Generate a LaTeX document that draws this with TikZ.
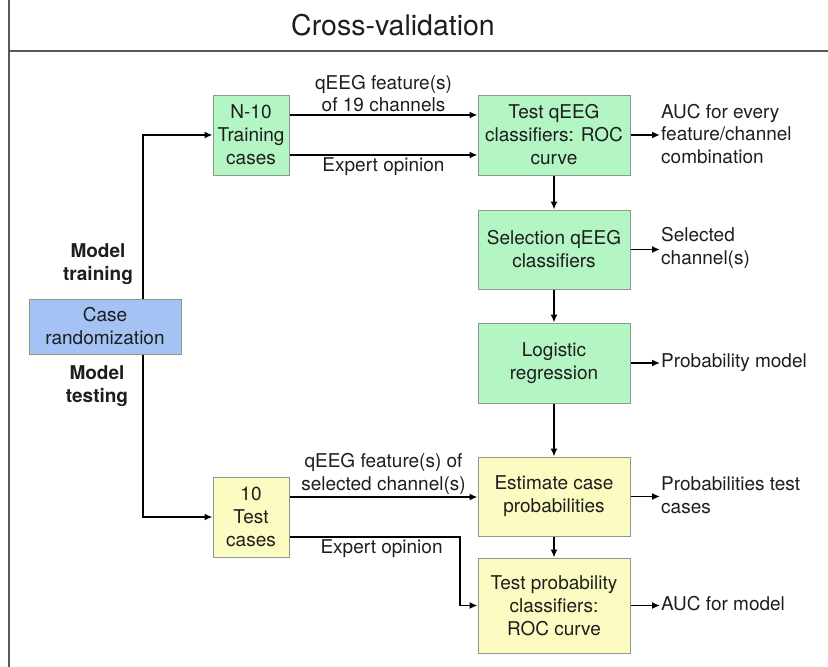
\documentclass[tikz,border=0pt]{standalone}
\usepackage{fontspec}
\setmainfont{TeX Gyre Heros}
\usepackage{tikz}
\usetikzlibrary{arrows.meta,positioning,calc}
\definecolor{trainbox}{HTML}{B3F5C3}
\definecolor{testbox}{HTML}{FCFCC2}
\definecolor{randbox}{HTML}{A4C2F4}
\definecolor{edgegray}{HTML}{8C9A8E}
\definecolor{ink}{HTML}{1E1E1E}

\begin{document}
\begin{tikzpicture}[x=1pt,y=-1pt,
  box/.style={draw=edgegray,line width=1pt,align=center,inner sep=0pt,text=ink,
    font=\fontsize{19}{23}\selectfont},
  lbl/.style={text=ink,align=center,inner sep=2pt,font=\fontsize{19}{22.5}\selectfont},
  outtxt/.style={lbl,align=left,anchor=west,inner sep=1pt},
  arr/.style={line width=1.7pt,-{Latex[length=8pt,width=7pt]}}]
  \useasboundingbox (0,0) rectangle (828,667);
  \draw[line width=1.6pt,black!65] (9,0) -- (9,667);
  \draw[line width=1.6pt,black!65] (9,51) -- (828,51);
  \node[text=ink,font=\fontsize{28.5}{30}\selectfont] (title) at (393,25) {Cross-validation};
  % boxes
  \node[box,fill=randbox,minimum width=152pt,minimum height=55pt] (rand) at (105,326.5) {Case\\randomization};
  \node[box,fill=trainbox,minimum width=76pt,minimum height=80pt] (train) at (251,135) {N-10\\Training\\cases};
  \node[box,fill=testbox,minimum width=76pt,minimum height=80pt] (tcases) at (251,517) {10\\Test\\cases};
  \node[box,fill=trainbox,minimum width=152pt,minimum height=80pt] (tqeeg) at (554,135) {Test qEEG\\classifiers: ROC\\curve};
  \node[box,fill=trainbox,minimum width=152pt,minimum height=79pt] (sel) at (554,249.5) {Selection qEEG\\classifiers};
  \node[box,fill=trainbox,minimum width=152pt,minimum height=80pt] (logreg) at (554,363) {Logistic\\regression};
  \node[box,fill=testbox,minimum width=152pt,minimum height=79pt] (estim) at (554,496.5) {Estimate case\\probabilities};
  \node[box,fill=testbox,minimum width=152pt,minimum height=95pt] (tprob) at (554,605.5) {Test probability\\classifiers:\\ROC curve};
  % side labels
  \node[lbl,font=\fontsize{19}{22.5}\selectfont\bfseries] (mtrain) at (98,264) {Model\\training};
  \node[lbl,font=\fontsize{19}{22.5}\selectfont\bfseries] (mtest) at (97,386) {Model\\testing};
  % outputs
  \node[outtxt] (auc) at (660,134) {AUC for every\\feature/channel\\combination};
  \node[outtxt] (selch) at (660,248) {Selected\\channel(s)};
  \node[outtxt] (pmodel) at (660,363) {Probability model};
  \node[outtxt] (ptest) at (660,495) {Probabilities test\\cases};
  \node[outtxt] (aucm) at (660,604) {AUC for model};
  \coordinate (bend) at (460,537);
  % connectors
  \draw[arr] ([xshift=38pt]rand.north) |- (train.west);
  \draw[arr] ([xshift=38pt]rand.south) |- (tcases.west);
  \draw[arr] ([yshift=20pt]train.east) -- ([yshift=20pt]train.east -| tqeeg.west)
    node[lbl,midway,above] (feat19) {qEEG feature(s)\\of 19 channels};
  \draw[arr] ([yshift=-20pt]train.east) -- ([yshift=-20pt]train.east -| tqeeg.west)
    node[lbl,midway,below] (exp1) {Expert opinion};
  \draw[arr] ([yshift=20pt]tcases.east) -- ([yshift=20pt]tcases.east -| estim.west)
    node[lbl,midway,above] (featsel) {qEEG feature(s) of\\selected channel(s)};
  \draw[arr] ([yshift=-20pt]tcases.east) -- (bend)
    node[lbl,pos=0.54,below] (exp2) {Expert opinion} |- (tprob.west);
  \draw[arr] (tqeeg) -- (sel);
  \draw[arr] (sel) -- (logreg);
  \draw[arr] (logreg) -- (estim);
  \draw[arr] (estim) -- (tprob);
  \draw[arr] (tqeeg.east) -- (tqeeg.east -| auc.west);
  \draw[arr] (sel.east) -- (sel.east -| selch.west);
  \draw[arr] (logreg.east) -- (logreg.east -| pmodel.west);
  \draw[arr] (estim.east) -- (estim.east -| ptest.west);
  \draw[arr] (tprob.east) -- (tprob.east -| aucm.west);
\end{tikzpicture}
\end{document}
